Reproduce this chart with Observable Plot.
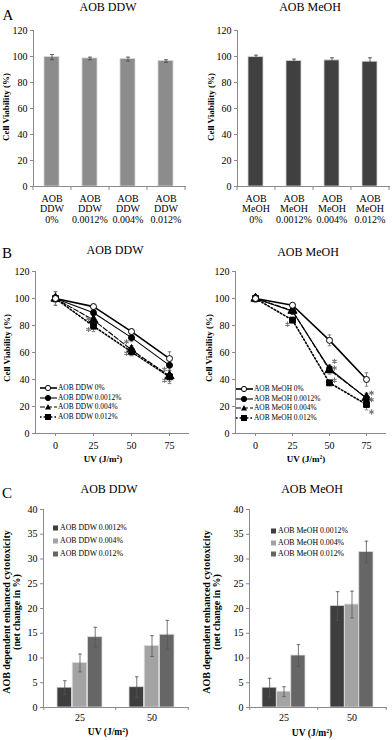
<!DOCTYPE html>
<html><head><meta charset="utf-8">
<script src="https://cdn.jsdelivr.net/npm/d3@7"></script>
<script src="https://cdn.jsdelivr.net/npm/@observablehq/plot@0.6"></script>
<style>
body{margin:0;background:#fff;}
#root{position:relative;width:392px;height:740px;overflow:hidden;font-family:"Liberation Serif","Times New Roman",serif;color:#000;background:#fff;}
.abs{position:absolute;white-space:nowrap;}
svg.plot{position:absolute;}
.leg{position:absolute;white-space:nowrap;display:flex;align-items:center;line-height:1;}
.leg svg{display:block;margin-right:1px;}
</style></head><body><div id="root"></div>
<script>
const FONT = '"Liberation Serif","Times New Roman",serif';

// ---------- DATA ----------
// Panel A
const concA = ["0%", "0.0012%", "0.004%", "0.012%"];
const ddwA = [99.5, 98.5, 98, 96.5];
const ddwAerr = [2, 1, 1.5, 1];
const meohA = [99.5, 96.5, 97, 96];
const meohAerr = [1.5, 1.5, 2, 3];
const yTicksAB = [0, 20, 40, 60, 80, 100, 120];

// Panel B
const uvB = [0, 25, 50, 75];
const concB = ["0%", "0.0012%", "0.004%", "0.012%"];
const ddwB0 = [100, 94, 75.5, 55.5];
const ddwB1 = [100, 89.5, 71, 50.5];
const ddwB2 = [100, 84, 62, 42.5];
const ddwB3 = [100, 79.5, 60.5, 42];
const ddwB0err = [5, 2, 2, 5];
const ddwB1err = [2, 2, 3, 4];
const ddwB2err = [3, 3, 3, 4];
const ddwB3err = [5, 4, 3, 5];
const meohB0 = [100, 95, 69, 40];
const meohB1 = [100, 90.5, 48, 26];
const meohB2 = [100, 91, 47, 26.5];
const meohB3 = [100, 84, 37.5, 21.5];
const meohB0err = [3, 1, 4, 5];
const meohB1err = [2, 2, 3, 4];
const meohB2err = [2, 2, 3, 3];
const meohB3err = [2, 2, 2, 4];
// significance asterisks (uv, value)
const ddwStarsUV = [25, 25, 50, 50, 75, 75];
const ddwStarsV = [85, 77, 68, 59.5, 47.5, 39.5];
const meohStarsLeftUV = [25];
const meohStarsLeftV = [81];
const meohStarsRightUV = [50, 50, 50, 75, 75, 75];
const meohStarsRightV = [53.5, 48.5, 39.5, 30, 25, 16];

// Panel C
const uvC = ["25", "50"];
const concC = ["0.0012%", "0.004%", "0.012%"];
const ddwC = [[4, 4.1], [9, 12.4], [14.2, 14.7]];
const ddwCerr = [[1.4, 2.1], [1.8, 2.1], [2, 2.9]];
const meohC = [[4, 20.5], [3.2, 20.8], [10.5, 31.4]];
const meohCerr = [[1.9, 2.9], [1, 2.7], [2.2, 2.2]];
const yTicksC = [0, 5, 10, 15, 20, 25, 30, 35, 40];

// ---------- STYLE ----------
const AXIS = "#8a8a8a";
const ERR = "#666";
const colorA = {DDW: "#8c8c8c", MeOH: "#404040"};
const colorsC = ["#3e3e3e", "#a3a3a3", "#666666"];
const cap = {draw(ctx, size) { const r = Math.sqrt(size / Math.PI); ctx.moveTo(-r, 0); ctx.lineTo(r, 0); }};
const bStyles = [
  {sw: 1.6, dash: null, symbol: "circle", fill: "#fff", r: 3},
  {sw: 1.1, dash: null, symbol: "circle", fill: "#000", r: 3},
  {sw: 1.1, dash: "5,2", symbol: "triangle", fill: "#000", r: 3.4},
  {sw: 1.6, dash: "1.6,2", symbol: "square", fill: "#000", r: 3.3}
];

const root = document.getElementById("root");
function addText(html, x, y, {size = 12, weight = "normal", rotate = false, lh = 1} = {}) {
  const d = document.createElement("div");
  d.className = "abs";
  d.style.left = x + "px"; d.style.top = y + "px";
  d.style.fontSize = size + "px"; d.style.fontWeight = weight; d.style.lineHeight = lh;
  d.style.textAlign = "center";
  d.style.transform = "translate(-50%,-50%)" + (rotate ? " rotate(-90deg)" : "");
  d.innerHTML = html;
  root.appendChild(d);
}
function place(svg, left, top) {
  svg.classList.add("plot");
  svg.style.left = left + "px"; svg.style.top = top + "px";
  root.appendChild(svg);
}
const baseStyle = {fontFamily: FONT, fontSize: "10px", background: "none", overflow: "visible", color: "#000"};

function errMarks(data, x, {dx = 0, stroke = ERR, capR = 2} = {}) {
  return [
    Plot.ruleX(data, {x, y1: d => d.v - d.e, y2: d => d.v + d.e, dx, stroke, strokeWidth: 0.8}),
    Plot.dot(data, {x, y: d => d.v + d.e, dx, symbol: cap, r: capR, fill: "none", stroke, strokeWidth: 0.8}),
    Plot.dot(data, {x, y: d => d.v - d.e, dx, symbol: cap, r: capR, fill: "none", stroke, strokeWidth: 0.8})
  ];
}

// ---------- PANEL A ----------
function panelA(solvent, values, errs, left, ml, mr) {
  const W = 196, H = 240, mt = 30, mb = 54;
  const pi = 0.6, po = 0.3;
  const step = (W - ml - mr) / (concA.length - pi + 2 * po);
  const data = concA.map((c, i) => ({c, v: values[i], e: errs[i]}));
  const svg = Plot.plot({
    width: W, height: H, marginLeft: ml, marginRight: mr, marginTop: mt, marginBottom: mb,
    style: baseStyle,
    x: {type: "band", domain: concA, paddingInner: pi, paddingOuter: po},
    y: {domain: [0, 120]},
    marks: [
      Plot.barY(data, {x: "c", y: "v", fill: colorA[solvent], stroke: "#d6d6d6", strokeWidth: 0.8}),
      ...errMarks(data, "c", {stroke: "#444"}),
      Plot.frame({anchor: "left", stroke: AXIS}),
      Plot.frame({anchor: "bottom", stroke: AXIS}),
      Plot.axisY({ticks: yTicksAB, tickSize: 3, tickPadding: 3, stroke: AXIS, fill: "#000", label: null}),
      Plot.axisX({tickSize: 0, tickPadding: 8, lineHeight: 1.05, tickFormat: c => `AOB\n${solvent}\n${c}`, label: null}),
      Plot.axisX({tickSize: 4, stroke: AXIS, fill: "none", dx: -step / 2, label: null}),
      Plot.axisX({ticks: [concA[concA.length - 1]], tickSize: 4, stroke: AXIS, fill: "none", dx: step / 2, label: null})
    ]
  });
  place(svg, left, 0);
}
panelA("DDW", ddwA, ddwAerr, 0, 33, 11);
panelA("MeOH", meohA, meohAerr, 196, 41, 3);

// ---------- PANEL B ----------
function panelB(series, errs, starsL, starsR, left, ml, mr) {
  const W = 196, H = 230, mt = 31, mb = 37;
  const marks = [];
  const sets = series.map((vals, k) => uvB.map((u, i) => ({u, v: vals[i], e: errs[k][i]})));
  sets.forEach(d => marks.push(...errMarks(d, "u", {capR: 1.8})));
  sets.forEach((d, k) => {
    const s = bStyles[k];
    marks.push(Plot.line(d, {x: "u", y: "v", stroke: "#000", strokeWidth: s.sw, strokeDasharray: s.dash}));
  });
  [2, 3, 1, 0].forEach(k => {
    const s = bStyles[k];
    marks.push(Plot.dot(sets[k], {x: "u", y: "v", symbol: s.symbol, r: s.r, fill: s.fill, stroke: "#000", strokeWidth: 1}));
  });
  const star = {symbol: "asterisk", r: 2.4, stroke: "#777", strokeWidth: 1.1, fill: "none"};
  if (starsL) marks.push(Plot.dot(starsL, {x: "u", y: "v", dx: -5, ...star}));
  if (starsR) marks.push(Plot.dot(starsR, {x: "u", y: "v", dx: 5, ...star}));
  marks.push(
    Plot.frame({anchor: "left", stroke: AXIS}),
    Plot.frame({anchor: "bottom", stroke: AXIS}),
    Plot.axisY({ticks: yTicksAB, tickSize: 3, tickPadding: 3, stroke: AXIS, fill: "#000", label: null}),
    Plot.axisX({ticks: uvB, tickSize: 3, tickPadding: 5, stroke: AXIS, fill: "#000", label: null})
  );
  const svg = Plot.plot({
    width: W, height: H, marginLeft: ml, marginRight: mr, marginTop: mt, marginBottom: mb,
    style: baseStyle,
    x: {type: "point", domain: uvB, padding: 0.5},
    y: {domain: [0, 120]},
    marks
  });
  place(svg, left, 240);
}
const zipStars = (us, vs) => us.map((u, i) => ({u, v: vs[i]}));
panelB([ddwB0, ddwB1, ddwB2, ddwB3], [ddwB0err, ddwB1err, ddwB2err, ddwB3err],
  zipStars(ddwStarsUV, ddwStarsV), null, 0, 35, 8);
panelB([meohB0, meohB1, meohB2, meohB3], [meohB0err, meohB1err, meohB2err, meohB3err],
  zipStars(meohStarsLeftUV, meohStarsLeftV), zipStars(meohStarsRightUV, meohStarsRightV), 196, 39, 7);

// ---------- PANEL C ----------
function panelC(vals, errs, left, ml, mr) {
  const W = 196, H = 260, mt = 29, mb = 33;
  const pi = 0.37, po = 0.185;
  const step = (W - ml - mr) / (uvC.length - pi + 2 * po);
  const bw = step * (1 - pi), sw = bw / 3;
  const marks = [];
  vals.forEach((series, k) => {
    const d = uvC.map((u, i) => ({u, v: series[i], e: errs[k][i]}));
    marks.push(Plot.barY(d, {x: "u", y: "v", fill: colorsC[k], stroke: "#dcdcdc", strokeWidth: 0.8,
      insetLeft: k * sw, insetRight: (2 - k) * sw}));
  });
  vals.forEach((series, k) => {
    const d = uvC.map((u, i) => ({u, v: series[i], e: errs[k][i]}));
    marks.push(...errMarks(d, "u", {dx: (k - 1) * sw, stroke: "#555", capR: 1.8}));
  });
  marks.push(
    Plot.frame({anchor: "left", stroke: AXIS}),
    Plot.frame({anchor: "bottom", stroke: AXIS}),
    Plot.axisY({ticks: yTicksC, tickSize: 3, tickPadding: 3, stroke: AXIS, fill: "#000", label: null}),
    Plot.axisX({tickSize: 0, tickPadding: 6, label: null}),
    Plot.axisX({tickSize: 3, stroke: AXIS, fill: "none", dx: -step / 2, label: null}),
    Plot.axisX({ticks: [uvC[uvC.length - 1]], tickSize: 3, stroke: AXIS, fill: "none", dx: step / 2, label: null})
  );
  const svg = Plot.plot({
    width: W, height: H, marginLeft: ml, marginRight: mr, marginTop: mt, marginBottom: mb,
    style: baseStyle,
    x: {type: "band", domain: uvC, paddingInner: pi, paddingOuter: po},
    y: {domain: [0, 40]},
    marks
  });
  place(svg, left, 480);
}
panelC(ddwC, ddwCerr, 0, 43, 8);
panelC(meohC, meohCerr, 196, 53, 6);

// ---------- LEGENDS ----------
function swatchB(k) {
  const s = bStyles[k];
  const dash = s.dash ? `stroke-dasharray="${s.dash}"` : "";
  let m;
  if (s.symbol === "circle") m = `<circle cx="8" cy="4" r="2.6" fill="${s.fill}" stroke="#000" stroke-width="1"/>`;
  else if (s.symbol === "triangle") m = `<polygon points="8,1 11,6.5 5,6.5" fill="#000"/>`;
  else m = `<rect x="5" y="1" width="6" height="6" fill="#000"/>`;
  return `<svg width="17" height="8"><line x1="0" y1="4" x2="17" y2="4" stroke="#000" stroke-width="${s.sw}" ${dash}/>${m}</svg>`;
}
function legendB(solvent, x, y0, dy) {
  concB.forEach((c, k) => {
    const d = document.createElement("div");
    d.className = "leg";
    d.style.left = x + "px"; d.style.top = (y0 + k * dy - 4) + "px";
    d.style.fontSize = "7.4px";
    d.innerHTML = swatchB(k) + `<span>AOB ${solvent} ${c}</span>`;
    root.appendChild(d);
  });
}
legendB("DDW", 40, 388, 9.5);
legendB("MeOH", 236, 389, 9.5);

function legendC(solvent, x, ys) {
  concC.forEach((c, k) => {
    const d = document.createElement("div");
    d.className = "leg";
    d.style.left = x + "px"; d.style.top = (ys[k] - 4) + "px";
    d.style.fontSize = "7.8px";
    d.innerHTML = `<svg width="7" height="8"><rect x="1" y="1.5" width="5" height="5" fill="${colorsC[k]}"/></svg><span>AOB ${solvent} ${c}</span>`;
    root.appendChild(d);
  });
}
legendC("DDW", 52, [527.5, 541, 554]);
legendC("MeOH", 270, [531, 543, 554]);

// ---------- TEXT ----------
addText("A", 8, 15, {size: 15});
addText("B", 7, 253, {size: 15});
addText("C", 7, 493, {size: 15});
addText("AOB DDW", 108, 7, {size: 12});
addText("AOB MeOH", 310, 7, {size: 12});
addText("AOB DDW", 115, 250, {size: 12});
addText("AOB MeOH", 308, 252, {size: 12});
addText("AOB DDW", 109, 489, {size: 12});
addText("AOB MeOH", 312, 489, {size: 12});
addText("Cell Viability (%)", 6, 107, {size: 9, weight: "bold", rotate: true});
addText("Cell Viability (%)", 211, 107, {size: 9, weight: "bold", rotate: true});
addText("Cell Viability (%)", 7, 348, {size: 9, weight: "bold", rotate: true});
addText("Cell Viability (%)", 209, 348, {size: 9, weight: "bold", rotate: true});
addText("AOB dependent enhanced cytotoxicity<br>(net change in %)", 11, 612, {size: 10, weight: "bold", rotate: true, lh: "9.5px"});
addText("AOB dependent enhanced cytotoxicity<br>(net change in %)", 211, 612, {size: 10, weight: "bold", rotate: true, lh: "9.5px"});
addText("UV (J/m<sup style='font-size:0.6em;vertical-align:0.5em;line-height:0'>2</sup>)", 103, 459, {size: 9, weight: "bold"});
addText("UV (J/m<sup style='font-size:0.6em;vertical-align:0.5em;line-height:0'>2</sup>)", 306, 459, {size: 9, weight: "bold"});
addText("UV (J/m<sup style='font-size:0.6em;vertical-align:0.5em;line-height:0'>2</sup>)", 108, 733, {size: 9.5, weight: "bold"});
addText("UV (J/m<sup style='font-size:0.6em;vertical-align:0.5em;line-height:0'>2</sup>)", 312, 734, {size: 9.5, weight: "bold"});
</script></body></html>
